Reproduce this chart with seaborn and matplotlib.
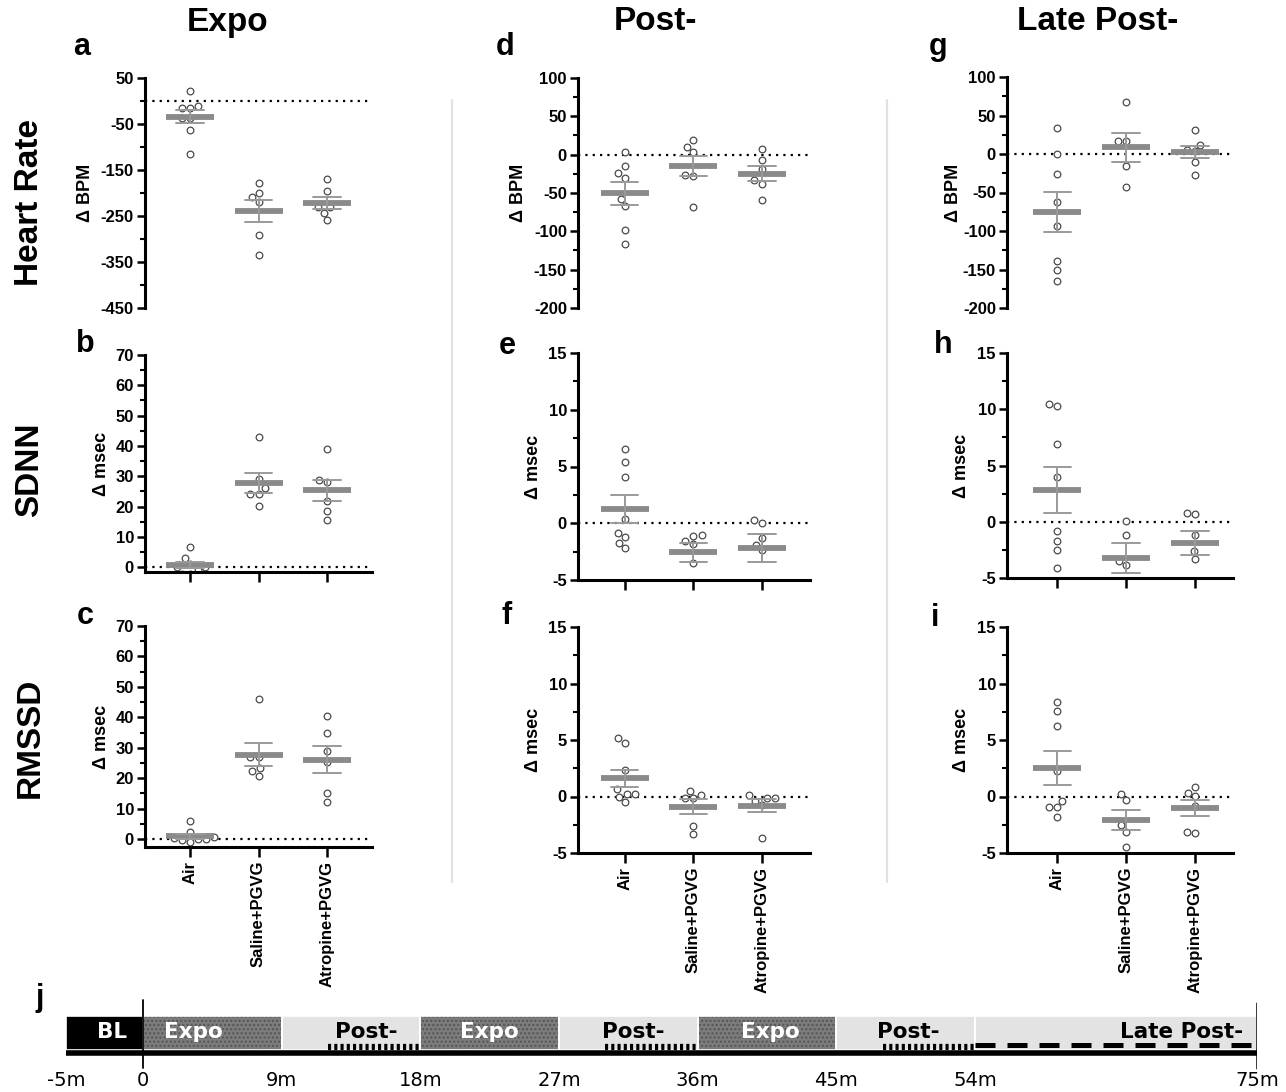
import matplotlib

matplotlib.use("Agg")

import matplotlib.pyplot as plt
import numpy as np
import pandas as pd
import seaborn as sns

W, H = 1286, 1092

groups = ["Air", "Saline+PGVG", "Atropine+PGVG"]

# Δ values per group (Air, Saline+PGVG, Atropine+PGVG).
# A few values sit below the -5 axis floor and are clipped, as in the original.
hr_expo = [
    [21, -10, -15, -15, -37, -37, -62, -115],
    [-179, -200, -209, -220, -292, -334],
    [-170, -196, -231, -231, -243, -259],
]
sdnn_expo = [
    [6.7, 3.0, 0.9, 0.1, 0.1, -1.0, -2.1, -2.1],
    [43.0, 29.0, 26.0, 24.3, 24.3, 20.3],
    [39.0, 28.7, 28.2, 21.9, 18.5, 15.5],
]
rmssd_expo = [
    [6.0, 2.2, 0.3, 0.0, -1.0, -0.4, 0.0, 0.7],
    [46.0, 27.0, 27.0, 23.4, 22.3, 20.6],
    [40.4, 34.7, 28.9, 25.2, 15.1, 12.1],
]
hr_post = [
    [4, -15, -24, -30, -58, -67, -98, -117],
    [19, 10, 3, -26, -28, -68],
    [8, -6.5, -19, -33.5, -38, -59],
]
sdnn_post = [
    [6.5, 5.4, 4.1, 0.4, -0.9, -1.25, -1.7, -2.2],
    [-1.1, -1.0, -1.6, -1.8, -3.5, -6.3],
    [0.05, 0.25, -1.3, -1.9, -2.35, -7.95],
]
rmssd_post = [
    [5.15, 4.7, 2.35, 0.67, 0.23, 0.23, 0.0, -0.53],
    [0.53, 0.15, -0.1, -0.1, -2.6, -3.3],
    [0.15, -0.1, -0.15, -0.4, -0.73, -3.7],
]
hr_late = [
    [34, 0, -25.5, -62, -94, -139, -150, -165],
    [67.5, 16.5, 17, -15, -43],
    [31, 12, 3.5, 5, -10, -27.7],
]
sdnn_late = [
    [10.3, 10.5, 6.9, 4.0, -0.8, -1.7, -2.5, -4.1],
    [0.05, -1.2, -3.5, -3.85, -7.75],
    [0.8, 0.67, -1.15, -2.6, -3.3, -5.8],
]
rmssd_late = [
    [8.33, 7.57, 6.2, 2.28, -0.38, -0.96, -0.96, -1.8],
    [0.23, -0.3, -2.55, -3.1, -4.5],
    [0.82, 0.32, 0.03, -0.88, -3.2, -3.13],
]

# protocol timeline (minutes)
phase_start = [-5, 0, 9, 18, 27, 36, 45, 54]
phase_end = [0, 9, 18, 27, 36, 45, 54, 75]
phase_kind = ["BL", "Expo", "Post", "Expo", "Post", "Expo", "Post", "Late"]
phase_label = ["BL", "Expo", "Post-", "Expo", "Post-", "Expo", "Post-", "Late Post-"]
phase_label_x = [-2.0, 3.3, 14.5, 22.5, 31.8, 40.7, 49.7, 69.4]
record_start = [12, 30, 48]
record_end = [18, 36, 54]
late_window = [54, 75]
time_ticks = [-5, 0, 9, 18, 27, 36, 45, 54, 75]
time_labels = ["-5m", "0", "9m", "18m", "27m", "36m", "45m", "54m", "75m"]
# the drawn time axis is not to scale: the late segment is squeezed
axis_breaks_min = [-5, 0, 54, 75]
axis_breaks_px = [0, 77, 909, 1191]

sns.set_style("ticks")
plt.rcParams["font.family"] = ["Liberation Sans", "DejaVu Sans"]
plt.rcParams["font.weight"] = "bold"
plt.rcParams["axes.unicode_minus"] = False
plt.rcParams["hatch.linewidth"] = 1.0
for key in ["text.color", "axes.labelcolor", "xtick.color", "ytick.color", "axes.edgecolor"]:
    plt.rcParams[key] = "black"

fig = plt.figure(figsize=(W / 100, H / 100), dpi=100)


def px_axes(x0, y0, w, h):
    return fig.add_axes([x0 / W, 1 - (y0 + h) / H, w / W, h / H])


def fig_text(px, py, s, **kw):
    fig.text(px / W, 1 - py / H, s, ha="center", va="center", **kw)


def long_frame(values):
    rows = [(g, v) for g, vals in zip(groups, values) for v in vals]
    return pd.DataFrame(rows, columns=["group", "value"])


# (letter, data, pixel box, ylim, major step, minor step, ylabel, row, xlim, ylabel x px)
panels = [
    ("a", hr_expo, (145, 78, 227, 230), (-450, 50), 100, 50, "Δ BPM", 0, (-0.66, 2.66), 94),
    ("b", sdnn_expo, (145, 355, 227, 217), (-1.6, 70), 10, 5, "Δ msec", 1, (-0.66, 2.66), 110),
    ("c", rmssd_expo, (145, 626, 227, 221), (-2.6, 70), 10, 5, "Δ msec", 2, (-0.66, 2.66), 110),
    ("d", hr_post, (578, 78, 232, 230), (-200, 100), 50, 25, "Δ BPM", 0, (-0.68, 2.7), 527),
    ("e", sdnn_post, (578, 353, 232, 227), (-5, 15), 5, 2.5, "Δ msec", 1, (-0.68, 2.7), 542),
    ("f", rmssd_post, (578, 627, 232, 226), (-5, 15), 5, 2.5, "Δ msec", 2, (-0.68, 2.7), 542),
    ("g", hr_late, (1007, 77, 226, 231), (-200, 100), 50, 25, "Δ BPM", 0, (-0.73, 2.55), 962),
    ("h", sdnn_late, (1007, 353, 226, 225), (-5, 15), 5, 2.5, "Δ msec", 1, (-0.73, 2.55), 970),
    ("i", rmssd_late, (1007, 627, 226, 226), (-5, 15), 5, 2.5, "Δ msec", 2, (-0.73, 2.55), 970),
]

for letter, values, box, ylim, major, minor, ylabel, row, xlim, ylab_px in panels:
    ax = px_axes(*box)
    df = long_frame(values)
    ax.axhline(0, color="black", lw=1.6, ls=(0, (1, 2.3)), zorder=0.5)
    sns.swarmplot(
        data=df, x="group", y="value", order=groups, ax=ax,
        color="white", edgecolor="#4a4a4a", linewidth=0.9, size=4.8, zorder=2,
    )
    sns.pointplot(
        data=df, x="group", y="value", order=groups, ax=ax,
        errorbar="se", capsize=0.4, color="#8a8a8a",
        marker="_", markersize=34, markeredgewidth=4.2, linestyle="none",
        err_kws={"linewidth": 1.4, "color": "#9a9a9a"},
    )
    ax.set_ylim(*ylim)
    ax.set_xlim(*xlim)
    lo = ylim[0] if (row == 0 or ylim[0] == -5) else 0
    ax.set_yticks(np.arange(lo, ylim[1] + 1e-9, minor), minor=True)
    ax.set_yticks(np.arange(lo, ylim[1] + 1e-9, major))
    ax.yaxis.set_major_formatter(matplotlib.ticker.FuncFormatter(lambda v, p: f"{v:g}"))
    ax.tick_params(axis="y", which="major", length=6, width=1.8, labelsize=12, pad=2)
    ax.tick_params(axis="y", which="minor", length=3.5, width=1.5)
    ax.set_xlabel("")
    ax.set_ylabel(ylabel, fontsize=13, fontweight="bold")
    ax.yaxis.set_label_coords((ylab_px - box[0]) / box[2], 0.5)
    sns.despine(ax=ax)
    ax.spines["left"].set_linewidth(2.2)
    ax.spines["bottom"].set_linewidth(2.2)
    if row == 0:
        ax.spines["bottom"].set_visible(False)
        ax.tick_params(axis="x", bottom=False, labelbottom=False)
    else:
        ax.set_xticks(range(len(groups)))
        ax.tick_params(axis="x", length=7, width=1.8, pad=3)
        if row == 1:
            ax.tick_params(axis="x", labelbottom=False)
        else:
            ax.set_xticklabels(groups, rotation=90, fontsize=12, fontweight="bold")

# panel letters, column titles, row titles
letters = {"a": (82, 47), "b": (85, 344), "c": (85, 616), "d": (505, 47), "e": (507, 346),
           "f": (507, 616), "g": (938, 47), "h": (943, 345), "i": (935, 618), "j": (40, 998)}
for s, (px, py) in letters.items():
    fig_text(px, py, s, fontsize=22, fontweight="bold")

for s, px in zip(["Expo", "Post-", "Late Post-"], [228, 655, 1098]):
    fig_text(px, 22, s, fontsize=24, fontweight="bold")

for s, py in zip(["Heart Rate", "SDNN", "RMSSD"], [203, 470, 738]):
    fig_text(30, py, s, fontsize=24, fontweight="bold", rotation=90)

for px in [452, 887]:
    fig.add_artist(plt.Line2D([px / W, px / W], [1 - 100 / H, 1 - 882 / H],
                              transform=fig.transFigure, color="#e2e2e2", lw=1.6))

# timeline panel j
axj = px_axes(66, 995, 1191, 75)
axj.set_xscale("function", functions=(
    lambda t: np.interp(t, axis_breaks_min, axis_breaks_px),
    lambda p: np.interp(p, axis_breaks_px, axis_breaks_min),
))
axj.set_xlim(-5, 75)
axj.set_ylim(0, 1)
face = {"BL": "black", "Expo": "#7c7c7c", "Post": "#e3e3e3", "Late": "#e3e3e3"}
hatch_col = {"BL": "black", "Expo": "#555555", "Post": "#e3e3e3", "Late": "#e3e3e3"}
hatches = {"BL": None, "Expo": "....", "Post": None, "Late": None}
widths = np.array(phase_end) - np.array(phase_start)
for k in ["BL", "Expo", "Post", "Late"]:
    idx = [i for i, kk in enumerate(phase_kind) if kk == k]
    axj.barh([0.495] * len(idx), widths[idx], left=np.array(phase_start)[idx], height=0.45,
             color=face[k], edgecolor=hatch_col[k], linewidth=0, hatch=hatches[k])
axj.barh([0.495] * len(widths), widths, left=phase_start, height=0.45,
         fill=False, edgecolor="white", linewidth=1.2)
for s, x, k in zip(phase_label, phase_label_x, phase_kind):
    c = "white" if k in ("BL", "Expo") else "black"
    axj.text(x, 0.5, s, ha="center", va="center", color=c, fontsize=15.5,
             fontweight="bold", family="DejaVu Sans")
axj.plot([-5, 75], [0.225, 0.225], color="black", lw=4, solid_capstyle="butt")
for a, b in zip(record_start, record_end):
    axj.plot([a, b], [0.31, 0.31], color="black", lw=4.5, ls=(0, (0.5, 0.5)))
axj.plot(late_window, [0.335, 0.335], color="black", lw=3.6, ls=(0, (4, 2.4)))
axj.plot([0, 0], [0.03, 0.93], color="black", lw=1.3)
axj.plot([75, 75], [0.03, 0.89], color="black", lw=1.8)
axj.set_xticks(time_ticks)
axj.set_xticklabels(time_labels, fontsize=14, fontweight="normal", family="DejaVu Sans")
axj.xaxis.set_minor_locator(matplotlib.ticker.NullLocator())
axj.tick_params(axis="x", length=0, pad=1)
axj.set_yticks([])
for sp in axj.spines.values():
    sp.set_visible(False)

fig.savefig("out.png", dpi=100)
